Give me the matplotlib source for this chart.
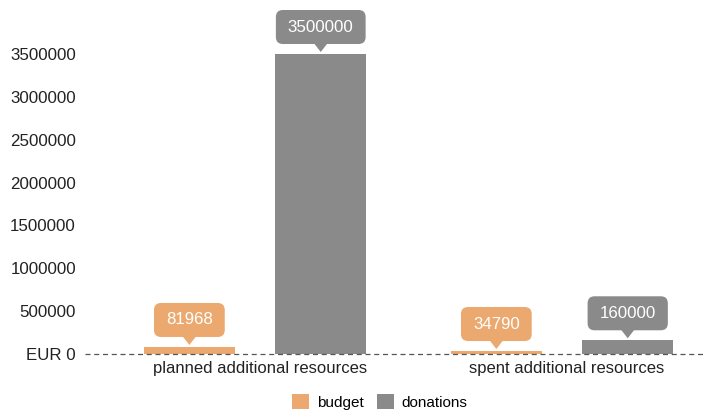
import matplotlib
matplotlib.use("Agg")
import matplotlib.pyplot as plt
import matplotlib.transforms as mtransforms
from matplotlib.patches import FancyBboxPatch, Polygon, Patch
import numpy as np

plt.rcParams['font.family'] = ['Liberation Sans', 'DejaVu Sans']

categories = ["planned additional resources", "spent additional resources"]
series_names = ["budget", "donations"]
budget = [81968, 34790]
donations = [3500000, 160000]
ytick_values = [0, 500000, 1000000, 1500000, 2000000, 2500000, 3000000, 3500000]
ytick_labels = ["EUR 0", "500000", "1000000", "1500000", "2000000", "2500000", "3000000", "3500000"]

colors = {"budget": "#EBA96F", "donations": "#8A8A8A"}

W, H = 714, 412
fig = plt.figure(figsize=(W / 100, H / 100), dpi=100)
ax = fig.add_axes([85 / W, (H - 354) / H, (706 - 85) / W, 300 / H])

x = np.arange(len(categories))
off = 0.214
bw = 0.298
ax.bar(x - off, budget, bw, color=colors["budget"], zorder=2)
ax.bar(x + off, donations, bw, color=colors["donations"], zorder=2)

ax.set_xlim(-0.554, 1.469)
ax.set_ylim(0, 3500000)
ax.set_yticks(ytick_values)
ax.set_yticklabels(ytick_labels, fontsize=12.2, color="#222222")
ax.set_xticks(x)
ax.set_xticklabels(categories, fontsize=12, color="#222222")
ax.tick_params(axis='both', length=0)
ax.tick_params(axis='y', pad=6.5)
ax.tick_params(axis='x', pad=5)
shift = mtransforms.ScaledTranslation(5 / 100, 0, fig.dpi_scale_trans)
for lab in ax.get_xticklabels():
    lab.set_transform(lab.get_transform() + shift)
for s in ax.spines.values():
    s.set_visible(False)
ax.axhline(0, color="#555555", lw=0.9, ls=(0, (4, 3)), zorder=3, clip_on=False)

renderer = fig.canvas.get_renderer()

def callout(xc, v, color):
    trans = mtransforms.Affine2D() + mtransforms.ScaledTranslation(xc, v, ax.transData)
    t = ax.annotate(f"{v}", (xc, v), xytext=(0, 27), textcoords='offset pixels',
                    ha='center', va='center', color='white', fontsize=12.2,
                    zorder=10, annotation_clip=False)
    ext = t.get_window_extent(renderer)
    w = ext.width + 24
    box = FancyBboxPatch((-w / 2, 10), w, 34, boxstyle="round,pad=0,rounding_size=7",
                         transform=trans, facecolor=color, edgecolor='none',
                         clip_on=False, zorder=5)
    ax.add_artist(box)
    tri = Polygon([(-7, 11), (7, 11), (0, 2)], closed=True, transform=trans,
                  facecolor=color, edgecolor='none', clip_on=False, zorder=5)
    ax.add_artist(tri)

for i in range(len(categories)):
    callout(x[i] - off, budget[i], colors["budget"])
    callout(x[i] + off, donations[i], colors["donations"])

handles = [Patch(facecolor=colors[n], edgecolor='none', label=n) for n in series_names]
fig.legend(handles=handles, loc='center', bbox_to_anchor=(380 / W, 1 - 402 / H), ncol=2,
           frameon=False, fontsize=11, handlelength=1.1, handleheight=1.1,
           handletextpad=0.5, columnspacing=0.9)

fig.savefig("out.png", dpi=100)
